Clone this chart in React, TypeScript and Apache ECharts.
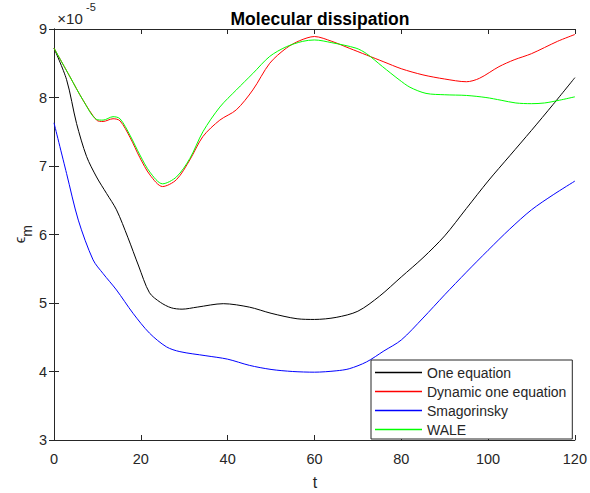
import React, { useEffect, useRef } from "react";
import * as echarts from "echarts";

const seriesNames = ["One equation", "Dynamic one equation", "Smagorinsky", "WALE"];
const seriesColors = ["#000000", "#ff0000", "#0000ff", "#00ff00"];

const oneEqT = [0, 2.9, 5.2, 7.5, 9.8, 12.1, 14.4, 17, 19.5, 22, 24.5, 27, 29.5, 33, 39, 45, 50, 56, 60, 65, 70, 75, 80, 85, 90, 95, 100, 105, 110, 115, 120];
const oneEqV = [8.72, 8.26, 7.62, 7.14, 6.84, 6.6, 6.36, 5.96, 5.54, 5.15, 5.01, 4.93, 4.91, 4.94, 4.99, 4.94, 4.85, 4.77, 4.76, 4.79, 4.88, 5.1, 5.38, 5.66, 5.98, 6.38, 6.78, 7.15, 7.52, 7.9, 8.29];

const smagT = [0, 2.9, 5.6, 9, 11.3, 14.4, 18.2, 22, 25.9, 29, 35, 40, 45, 50, 55, 60, 65, 68, 72, 76, 80, 85, 90, 95, 100, 105, 110, 115, 120];
const smagV = [7.63, 6.89, 6.21, 5.63, 5.43, 5.19, 4.85, 4.56, 4.36, 4.29, 4.23, 4.18, 4.09, 4.03, 4.0, 3.99, 4.01, 4.04, 4.14, 4.3, 4.46, 4.78, 5.12, 5.45, 5.77, 6.08, 6.36, 6.58, 6.78];

const dynT = [0, 3.7, 6.7, 9.8, 11.3, 13.6, 15.2, 17.5, 19.8, 22.1, 25, 28.2, 31.3, 34.3, 38.2, 42, 45.8, 49.7, 53.5, 56.6, 60, 64, 68, 72, 76, 80, 85, 90, 95, 98, 102.5, 106, 110, 116, 120];
const dynV = [8.72, 8.3, 7.96, 7.67, 7.65, 7.69, 7.66, 7.42, 7.12, 6.87, 6.7, 6.8, 7.09, 7.43, 7.67, 7.82, 8.11, 8.5, 8.72, 8.83, 8.89, 8.82, 8.72, 8.62, 8.52, 8.42, 8.33, 8.27, 8.23, 8.28, 8.45, 8.55, 8.64, 8.82, 8.92];

const waleT = [0, 3.7, 6.7, 9.8, 11.3, 13.6, 15.2, 17.5, 19.8, 22.1, 25, 28.2, 31.3, 34.3, 38.2, 42, 45.8, 49.7, 53.5, 57.3, 60, 64, 69.6, 72, 75.7, 79.5, 82, 85.7, 90, 95, 99.5, 103, 106.4, 110, 113, 116.4, 120];
const waleV = [8.72, 8.3, 7.96, 7.68, 7.67, 7.72, 7.69, 7.45, 7.16, 6.91, 6.74, 6.84, 7.11, 7.5, 7.86, 8.11, 8.35, 8.6, 8.74, 8.82, 8.84, 8.8, 8.72, 8.64, 8.45, 8.26, 8.15, 8.06, 8.04, 8.03, 8.0, 7.96, 7.92, 7.91, 7.92, 7.96, 8.01];

const xTicks = { min: 0, max: 120, interval: 20 };
const yTicks = { min: 3, max: 9, interval: 1 };

const FONT = "'Liberation Sans', Arial, Helvetica, sans-serif";
const AX = "#262626";

function pairs(t: number[], v: number[]) {
  return t.map((x, i) => [x, v[i]]);
}

export default function App() {
  const ref = useRef<HTMLDivElement>(null);
  useEffect(() => {
    if (!ref.current) return;
    const chart = echarts.init(ref.current, undefined, { renderer: "svg" });
    const data = [pairs(oneEqT, oneEqV), pairs(dynT, dynV), pairs(smagT, smagV), pairs(waleT, waleV)];
    const axisCommon = {
      axisLine: { show: true, lineStyle: { color: AX, width: 1 } },
      axisTick: { show: true, inside: true, length: 5, lineStyle: { color: AX } },
      splitLine: { show: false },
    };
    chart.setOption({
      animation: false,
      backgroundColor: "#ffffff",
      grid: { left: 54, right: 14, top: 29, bottom: 53 },
      title: {
        text: "Molecular dissipation",
        left: 315,
        top: 5,
        textAlign: "center",
        textStyle: { fontFamily: FONT, fontSize: 17.5, fontWeight: "bold", color: "#000" },
      },
      xAxis: [
        {
          type: "value",
          ...xTicks,
          ...axisCommon,
          axisLabel: { margin: 11, fontFamily: FONT, fontSize: 14.5, color: AX },
        },
        {
          type: "value",
          position: "top",
          ...xTicks,
          ...axisCommon,
          axisLabel: { show: false },
        },
      ],
      yAxis: [
        {
          type: "value",
          ...yTicks,
          ...axisCommon,
          axisLabel: { margin: 7, fontFamily: FONT, fontSize: 14.5, color: AX },
        },
        {
          type: "value",
          position: "right",
          ...yTicks,
          ...axisCommon,
          axisLabel: { show: false },
        },
      ],
      legend: {
        orient: "vertical",
        left: 371,
        top: 360,
        padding: [3, 6, 0, 4],
        itemGap: 0,
        itemWidth: 47,
        itemHeight: 1.5,
        icon: "rect",
        borderColor: AX,
        borderWidth: 1,
        borderRadius: 0,
        backgroundColor: "#ffffff",
        textStyle: { fontFamily: FONT, fontSize: 14, color: AX, lineHeight: 19 },
        data: seriesNames,
        z: 10,
      },
      series: seriesNames.map((name, i) => ({
        name,
        type: "line",
        xAxisIndex: 0,
        yAxisIndex: 0,
        data: data[i],
        smooth: 0.3,
        showSymbol: false,
        symbol: "none",
        lineStyle: { color: seriesColors[i], width: 1 },
        itemStyle: { color: seriesColors[i] },
        z: 2 + i,
      })),
      graphic: [
        {
          type: "text",
          x: 70,
          y: 18,
          style: { text: "×10", fontFamily: FONT, fontSize: 15, fill: AX, textAlign: "center", textVerticalAlign: "middle" },
        },
        {
          type: "text",
          x: 91,
          y: 7,
          style: { text: "-5", fontFamily: FONT, fontSize: 11, fill: AX, textAlign: "center", textVerticalAlign: "middle" },
        },
        {
          type: "text",
          x: 315,
          y: 482,
          style: { text: "t", fontFamily: FONT, fontSize: 16, fill: AX, textAlign: "center", textVerticalAlign: "middle" },
        },
        {
          type: "text",
          x: 19,
          y: 240,
          rotation: Math.PI / 2,
          style: { text: "ϵ", fontFamily: FONT, fontSize: 15, fill: AX, textAlign: "center", textVerticalAlign: "middle" },
        },
        {
          type: "text",
          x: 27,
          y: 231,
          rotation: Math.PI / 2,
          style: { text: "m", fontFamily: FONT, fontSize: 14, fill: AX, textAlign: "center", textVerticalAlign: "middle" },
        },
      ],
    });
    return () => chart.dispose();
  }, []);
  return <div ref={ref} style={{ position: "fixed", left: 0, top: 0, width: 590, height: 493 }} />;
}
